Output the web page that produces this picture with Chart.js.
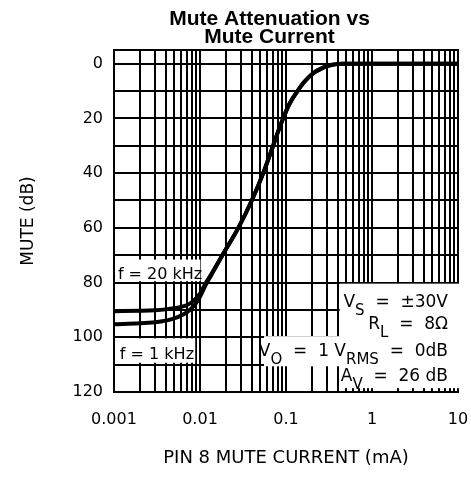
<!DOCTYPE html>
<html><head><meta charset="utf-8">
<script src="https://cdn.jsdelivr.net/npm/chart.js@4.4.1/dist/chart.umd.min.js"></script>
<style>html,body{margin:0;padding:0;background:#fff;}canvas{display:block;}</style>
</head><body>
<canvas id="c" width="471" height="482"></canvas>
<script>
// ---- data ----
const titleLines = ['Mute Attenuation vs', 'Mute Current'];
const xTickLabels = ['0.001', '0.01', '0.1', '1', '10'];
const yTickLabels = ['0', '20', '40', '60', '80', '100', '120'];
const yGridStep = 10;
const seriesLabels = ['f = 20 kHz', 'f = 1 kHz'];

const current20k = [0.001, 0.002, 0.003, 0.004, 0.005, 0.006, 0.007, 0.008, 0.009, 0.010, 0.0115, 0.0135, 0.0182, 0.0279, 0.040, 0.0544, 0.0708, 0.0805, 0.0925, 0.1084, 0.136, 0.160, 0.183, 0.218, 0.25, 0.295, 0.347, 0.40, 0.45, 1, 10];
const mute20k    = [90.5, 90.3, 90.1, 89.8, 89.4, 88.9, 88.3, 87.2, 85.8, 84.0, 80.5, 77.0, 70.0, 60.0, 50.0, 40.0, 30.0, 25.0, 20.0, 15.0, 10.0, 7.0, 5.0, 3.0, 2.0, 1.0, 0.4, 0.1, 0, 0, 0];

const current1k = [0.001, 0.002, 0.003, 0.004, 0.005, 0.006, 0.007, 0.008, 0.009, 0.010, 0.0115, 0.0135, 0.0182, 0.0279, 0.040, 0.0544, 0.0708, 0.0805, 0.0925, 0.1084, 0.136, 0.160, 0.183, 0.218, 0.25, 0.295, 0.347, 0.40, 0.45, 1, 10];
const mute1k    = [95.2, 94.9, 94.5, 93.9, 93.1, 92.1, 90.9, 89.4, 87.5, 85.2, 81.2, 77.3, 70.0, 60.0, 50.0, 40.0, 30.0, 25.0, 20.0, 15.0, 10.0, 7.0, 5.0, 3.0, 2.0, 1.0, 0.4, 0.1, 0, 0, 0];

// annotation texts
const noteVs = [['V'], ['S', 1], ['  =  ±30V']];
const noteRl = [['R'], ['L', 1], ['  =  8Ω']];
const noteVo = [['V'], ['O', 1], ['  =  1 V'], ['RMS', 1], ['  =  0dB']];
const noteAv = [['A'], ['V', 1], ['  =  26 dB']];

// ---- helpers ----
const FONT = '"DejaVu Sans", sans-serif';
const xDecades = xTickLabels.map(Number);
function xGrid() {
  const t = [];
  for (let e = -3; e <= 0; e++) for (let m = 1; m <= 9; m++) t.push({ value: Number((m * Math.pow(10, e)).toPrecision(3)) });
  t.push({ value: 10 });
  return t;
}
function yGrid() {
  const t = [];
  for (let v = 0; v <= 120; v += yGridStep) t.push({ value: v });
  return t;
}
function pts(xs, ys) { return xs.map((x, i) => ({ x: x, y: ys[i] })); }

function drawRich(ctx, segs, x, baseline, align, size, subSize, subShift) {
  const widths = segs.map(s => { ctx.font = (s[1] ? subSize : size) + 'px ' + FONT; return ctx.measureText(s[0]).width; });
  const total = widths.reduce((a, b) => a + b, 0);
  let cx = align === 'right' ? x - total : x;
  ctx.textAlign = 'left';
  ctx.textBaseline = 'alphabetic';
  segs.forEach((s, i) => {
    ctx.font = (s[1] ? subSize : size) + 'px ' + FONT;
    ctx.fillText(s[0], cx, baseline + (s[1] ? subShift : 0));
    cx += widths[i];
  });
}

const annotPlugin = {
  id: 'annot',
  beforeDatasetsDraw(chart) {
    const { ctx, chartArea: a } = chart;
    const xs = chart.scales.x, ys = chart.scales.y;
    const X = v => xs.getPixelForValue(v), Y = v => ys.getPixelForValue(v);
    ctx.save();
    // plot frame
    ctx.strokeStyle = '#000';
    ctx.lineWidth = 2;
    ctx.strokeRect(a.left, a.top, a.right - a.left, a.bottom - a.top);
    // white label boxes (in data coordinates)
    ctx.fillStyle = '#fff';
    const box = (x0, x1, y0, y1, padR) => {
      const l = X(x0) + 1, r = X(x1) + (padR || 0), t = Y(y0), b = Y(y1);
      ctx.fillRect(l, t, r - l, b - t);
    };
    box(0.001, 0.0101, 71.6, 79.5);
    box(0.001, 0.0088, 100.4, 109.3);
    box(0.41, 10, 80.4, 100.4, 2);
    box(0.054, 10, 99.6, 110.6, 2);
    box(0.41, 10, 109.6, 118.6, 2);
    // texts
    ctx.fillStyle = '#000';
    ctx.font = '16px ' + FONT;
    ctx.textAlign = 'left';
    ctx.textBaseline = 'alphabetic';
    ctx.fillText(seriesLabels[0], X(0.00111), Y(78.8));
    ctx.fillText(seriesLabels[1], X(0.00117), Y(108.1));
    const R = X(7.65);
    drawRich(ctx, noteVs, R, Y(89.0), 'right', 17, 15, 8);
    drawRich(ctx, noteRl, R, Y(97.1), 'right', 17, 15, 8);
    drawRich(ctx, noteVo, R, Y(107.0), 'right', 17, 15, 8);
    drawRich(ctx, noteAv, R, Y(116.1), 'right', 17, 15, 8);
    ctx.restore();
  },
  afterDraw(chart) {
    const { ctx, chartArea: a } = chart;
    ctx.save();
    ctx.fillStyle = '#000';
    ctx.font = 'bold 21px "Liberation Sans", Arial, sans-serif';
    ctx.textAlign = 'center';
    ctx.textBaseline = 'alphabetic';
    const cx = (a.left + a.right) / 2 - 16.5;
    ctx.fillText(titleLines[0], cx, 25);
    ctx.fillText(titleLines[1], cx, 43);
    ctx.restore();
  }
};

new Chart(document.getElementById('c'), {
  type: 'line',
  data: {
    datasets: [
      { label: seriesLabels[0], data: pts(current20k, mute20k), borderColor: '#000', borderWidth: 4, pointRadius: 0, fill: false, cubicInterpolationMode: 'monotone' },
      { label: seriesLabels[1], data: pts(current1k, mute1k), borderColor: '#000', borderWidth: 4, pointRadius: 0, fill: false, cubicInterpolationMode: 'monotone' }
    ]
  },
  options: {
    responsive: false,
    animation: false,
    devicePixelRatio: 1,
    layout: { padding: { left: 0, right: 13, top: 50, bottom: 0 } },
    plugins: { legend: { display: false }, tooltip: { enabled: false }, title: { display: false } },
    scales: {
      x: {
        type: 'logarithmic', position: 'bottom', min: 0.001, max: 10,
        afterBuildTicks: s => { s.ticks = xGrid(); },
        afterFit: s => { s.height = 90; s.paddingLeft = 0; s.paddingRight = 0; },
        ticks: {
          autoSkip: false, maxRotation: 0, minRotation: 0, padding: 18, color: '#000',
          font: { family: FONT, size: 16 },
          callback: v => { const i = xDecades.findIndex(d => Math.abs(d - v) < d * 1e-6); return i >= 0 ? xTickLabels[i] : ''; }
        },
        grid: { color: '#000', lineWidth: 2, drawTicks: false },
        border: { display: false },
        title: { display: true, text: 'PIN 8 MUTE CURRENT (mA)', color: '#000', font: { family: FONT, size: 18 }, padding: { top: 0, bottom: 13 } }
      },
      y: {
        type: 'linear', reverse: true, min: -5, max: 120,
        afterBuildTicks: s => { s.ticks = yGrid(); },
        afterFit: s => { s.width = 114; },
        ticks: {
          autoSkip: false, padding: 11, color: '#000',
          font: { family: FONT, size: 16 },
          callback: v => yTickLabels.includes(String(v)) ? String(v) : ''
        },
        grid: { color: '#000', lineWidth: 2, drawTicks: false },
        border: { display: false },
        title: { display: true, text: 'MUTE (dB)', color: '#000', font: { family: FONT, size: 17 }, padding: { top: 18, bottom: 0 } }
      }
    }
  },
  plugins: [annotPlugin]
});
</script>
</body></html>
